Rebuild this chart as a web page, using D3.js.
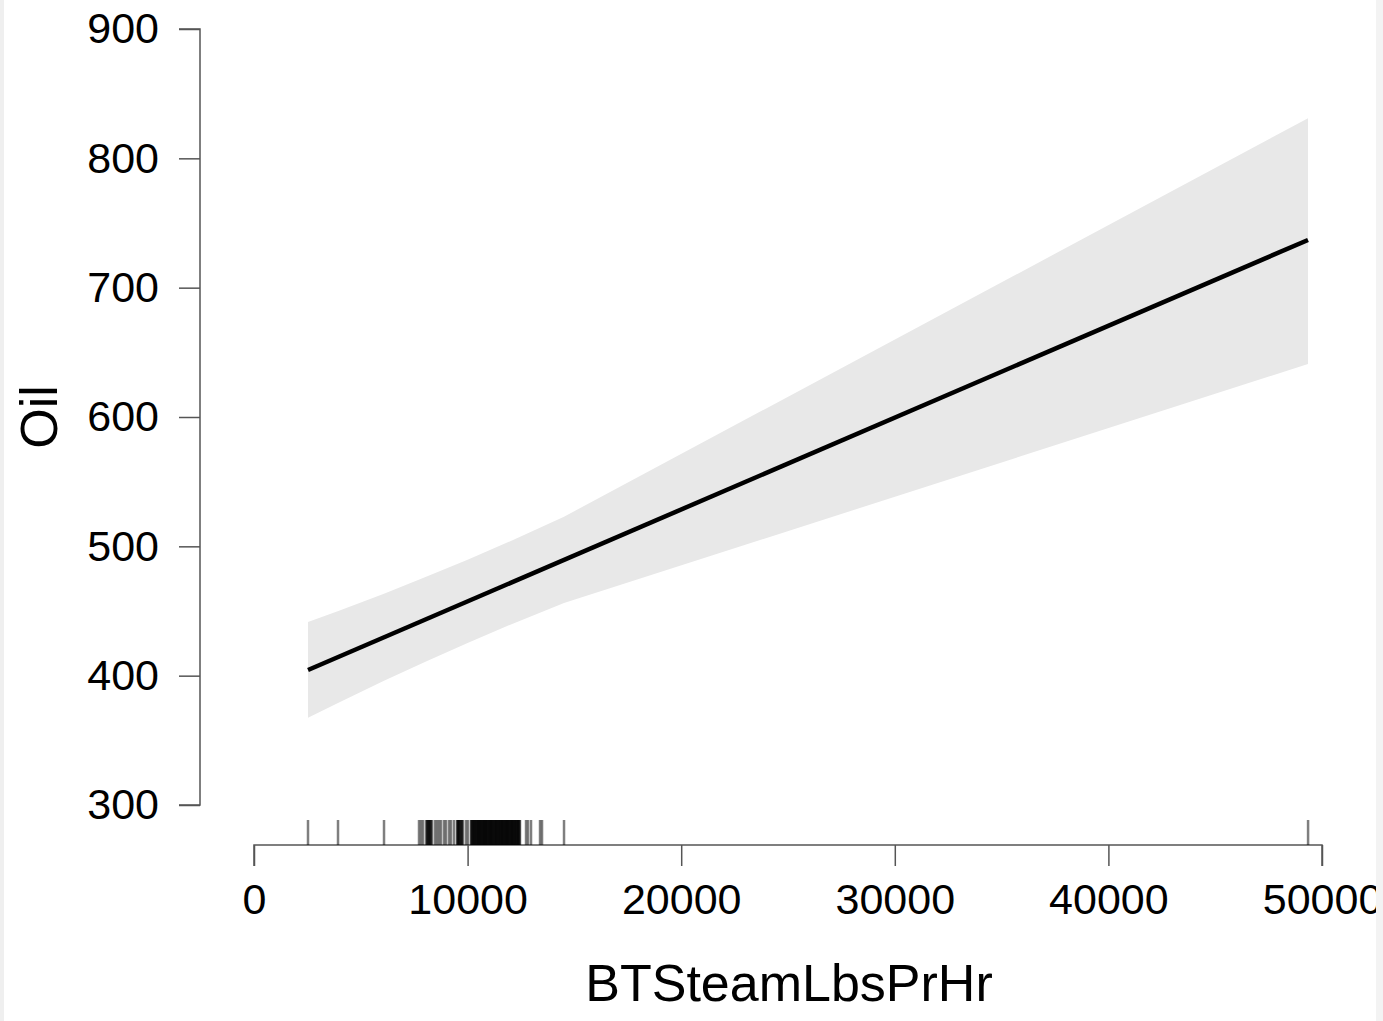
<!DOCTYPE html>
<html>
<head>
<meta charset="utf-8">
<script src="https://cdn.jsdelivr.net/npm/d3@7"></script>
<style>
  html, body { margin: 0; padding: 0; background: #ffffff; }
  svg { display: block; }
  text { font-family: "Liberation Sans", Arial, Helvetica, sans-serif; fill: #000; }
</style>
</head>
<body>
<svg id="chart" width="1383" height="1021"></svg>
<script>
// Fitted effect of steam rate on oil, with confidence band and a rug of observed values
const xTicks = [0, 10000, 20000, 30000, 40000, 50000];
const yTicks = [300, 400, 500, 600, 700, 800, 900];

// fitted line end points
const fitX = [2528, 49345];
const fitY = [404.4, 736.9];

// confidence band
const bandX     = [2528, 3980, 6086, 8000, 10000, 12000, 14513, 49345];
const bandUpper = [441.4, 450.2, 463.4, 476.0, 489.7, 504.0, 522.9, 831.0];
const bandLower = [367.4, 379.2, 396.0, 410.6, 425.3, 439.4, 456.1, 641.0];

// observed BTSteamLbsPrHr values (rug)
const rugX = [2528, 3933, 6087,
  7725, 7819, 7912, 8053, 8100, 8120, 8147, 8180, 8200, 8240, 8260, 8290, 8334, 8474, 8568, 8662, 8755,
  8896, 8989, 9130, 9224, 9364, 9504, 9530, 9550, 9570, 9598, 9620, 9650, 9692, 9720, 9740, 9785, 9926, 10019,
  10160, 10180, 10200, 10230, 10253, 10280, 10300, 10320, 10347, 10370, 10400, 10420, 10441, 10470,
  10490, 10510, 10534, 10560, 10580, 10600, 10628, 10650, 10680, 10700, 10722, 10750, 10770, 10790,
  10815, 10840, 10860, 10880, 10909, 10930, 10950, 10980, 11003, 11030, 11050, 11070, 11096, 11120,
  11140, 11160, 11190, 11210, 11240, 11260, 11284, 11310, 11330, 11350, 11377, 11400, 11420, 11450,
  11471, 11490, 11520, 11540, 11564, 11590, 11610, 11630, 11658, 11680, 11700, 11730, 11752, 11780,
  11800, 11820, 11845, 11870, 11890, 11910, 11939, 11960, 11990, 12010, 12033, 12060, 12080, 12100,
  12126, 12150, 12170, 12200, 12220, 12240, 12270, 12290, 12314, 12340, 12360, 12380, 12407, 12430, 12454,
  12735, 12829, 12969,
  13391, 13484, 14514, 49348];

const xLabel = "BTSteamLbsPrHr";
const yLabel = "Oil";

const svg = d3.select("#chart");

const x = d3.scaleLinear().domain([0, 50000]).range([254, 1322]);
const y = d3.scaleLinear().domain([300, 900]).range([805, 29]);

// band
const band = bandX.map((d, i) => ({x: d, lo: bandLower[i], hi: bandUpper[i]}));
svg.append("path")
  .datum(band)
  .attr("fill", "#e8e8e8")
  .attr("stroke", "none")
  .attr("d", d3.area().x(d => x(d.x)).y0(d => y(d.lo)).y1(d => y(d.hi)));

// fitted line
svg.append("path")
  .datum(fitX.map((d, i) => ({x: d, y: fitY[i]})))
  .attr("fill", "none")
  .attr("stroke", "#000")
  .attr("stroke-width", 4.5)
  .attr("d", d3.line().x(d => x(d.x)).y(d => y(d.y)));

// y axis
const yAxis = svg.append("g")
  .attr("transform", "translate(200,0)")
  .call(d3.axisLeft(y).tickValues(yTicks).tickSize(21).tickPadding(20).tickFormat(d3.format("d")));
yAxis.select(".domain").attr("d", `M-21,${y(900)}H0V${y(300)}H-21`);

// x axis
const xAxis = svg.append("g")
  .attr("transform", "translate(0,845)")
  .call(d3.axisBottom(x).tickValues(xTicks).tickSize(21).tickPadding(17).tickFormat(d3.format("d")));
xAxis.select(".domain").attr("d", `M${x(0)},21V0H${x(50000)}V21`);

[yAxis, xAxis].forEach(g => {
  g.selectAll(".domain").attr("stroke", "#555").attr("stroke-width", 1.5);
  g.selectAll(".tick line").attr("stroke", "#555").attr("stroke-width", 1.5);
  g.selectAll(".tick text").attr("font-size", 43).attr("fill", "#000")
    .style("font-family", "'Liberation Sans', Arial, sans-serif");
});

// rug
svg.append("g")
  .selectAll("line")
  .data(rugX)
  .join("line")
  .attr("x1", d => x(d)).attr("x2", d => x(d))
  .attr("y1", 820).attr("y2", 845)
  .attr("stroke", "#000")
  .attr("stroke-opacity", 0.5)
  .attr("stroke-width", 2.5);

// axis titles
svg.append("text")
  .attr("x", 789).attr("y", 1001)
  .attr("text-anchor", "middle")
  .attr("font-size", 52)
  .text(xLabel);

svg.append("text")
  .attr("transform", "translate(57,417) rotate(-90)")
  .attr("text-anchor", "middle")
  .attr("font-size", 52)
  .text(yLabel);

// page edges
svg.append("rect").attr("x", 0).attr("y", 0).attr("width", 4).attr("height", 1021).attr("fill", "#efefef");
svg.append("rect").attr("x", 1376).attr("y", 0).attr("width", 7).attr("height", 1021).attr("fill", "#f3f3f3");
</script>
</body>
</html>
